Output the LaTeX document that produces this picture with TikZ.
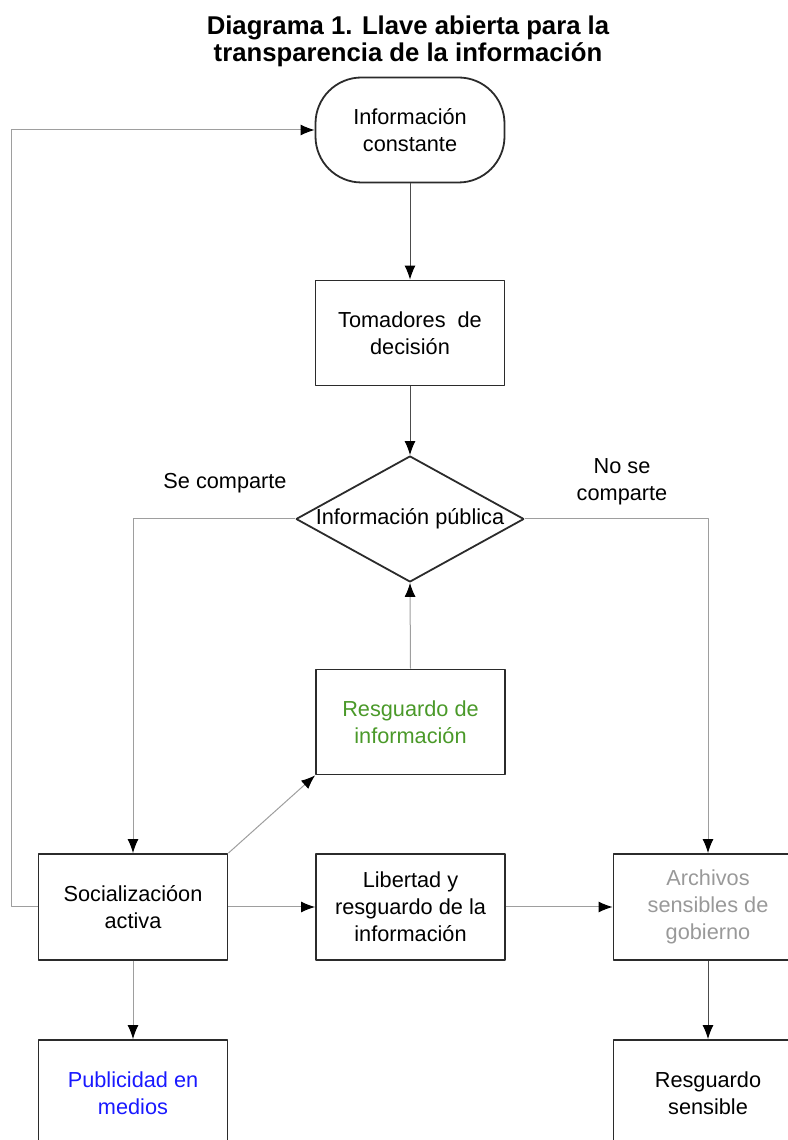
\documentclass[tikz,border=0pt]{standalone}
\usepackage{fontspec}
\setmainfont{Liberation Sans}
\usetikzlibrary{arrows.meta,shapes.geometric}
\definecolor{strokecol}{rgb}{0.17,0.17,0.17}
\definecolor{edgecol}{rgb}{0.62,0.62,0.62}
\definecolor{darkedge}{rgb}{0.3,0.3,0.3}
\definecolor{greencol}{rgb}{0.29,0.6,0.16}
\definecolor{bluecol}{rgb}{0.1,0.1,1.0}
\definecolor{graycol}{rgb}{0.6,0.6,0.6}
\tikzset{
  flowtext/.style={font=\fontsize{21.8}{27}\selectfont, align=center},
  flowbox/.style={flowtext, draw=strokecol, line width=1.8bp, inner sep=0pt,
    minimum width=189bp, minimum height=105bp},
  terminal/.style={flowbox, rounded corners=46bp},
  decision/.style={flowtext, diamond, draw=strokecol, line width=1.8bp, inner sep=0pt,
    minimum width=228bp, minimum height=126bp},
  edge/.style={->, draw=edgecol, line width=1bp},
  darkline/.style={->, draw=darkedge, line width=1bp},
}
\begin{document}
\begin{tikzpicture}[>={Latex[length=14bp,width=11bp,black]},line join=bevel,]
\useasboundingbox (0bp,0bp) rectangle (788bp,1140bp);
\clip (0bp,0bp) rectangle (788bp,1140bp);
  % Title
  \node[font=\bfseries\fontsize{25.8}{27}\selectfont, align=center] (title) at (408bp,1099bp)
    {Diagrama 1. Llave abierta para la\\transparencia de la información};
  % Node: infoconst
  \node[terminal] (infoconst) at (410bp,1010bp) {Información\\constante};
  % Node: tomadores
  \node[flowbox] (tomadores) at (410bp,807bp) {Tomadores\ \ de\\decisión};
  % Node: infopub
  \node[decision] (infopub) at (410bp,621bp) {\makebox[0pt]{Información pública}};
  % Node: resguardo
  \node[flowbox, text=greencol] (resguardo) at (410.5bp,418bp) {Resguardo de\\información};
  % Node: social
  \node[flowbox, minimum height=106bp] (social) at (133bp,233bp) {Socializacióon\\activa};
  % Node: libertad
  \node[flowbox, minimum height=106bp] (libertad) at (410.5bp,233bp) {Libertad y\\resguardo de la\\información};
  % Node: archivos
  \node[flowbox, minimum height=106bp, text=graycol] (archivos) at (708bp,233bp) {Archivos\\sensibles de\\gobierno};
  % Node: publicidad
  \node[flowbox, minimum height=106bp, text=bluecol] (publicidad) at (133bp,47bp) {Publicidad en\\medios};
  % Node: rsensible
  \node[flowbox, minimum height=106bp] (rsensible) at (708bp,47bp) {Resguardo\\sensible};
  % Labels
  \node[flowtext] (secomp) at (225bp,657bp) {Se comparte};
  \node[flowtext] (nosecomp) at (622bp,658bp) {No se\\comparte};
%
  % Edge: social -> infoconst
  \draw[edge] (social.west) -- ++(-26bp,0) |- (infoconst.west);
  % Edge: infoconst -> tomadores
  \draw[darkline] (infoconst.south) -- (tomadores.north);
  % Edge: tomadores -> infopub
  \draw[darkline] (tomadores.south) -- (infopub.north);
  % Edge: infopub -> social
  \draw[edge] (infopub.west) -| (social.north);
  % Edge: infopub -> archivos
  \draw[edge] (infopub.east) -| (archivos.north);
  % Edge: resguardo -> infopub
  \draw[edge] (resguardo.north) -- (infopub.south);
  % Edge: social -> resguardo
  \draw[edge] (social.north east) -- (resguardo.south west);
  % Edge: social -> libertad
  \draw[edge] (social.east) -- (libertad.west);
  % Edge: libertad -> archivos
  \draw[edge] (libertad.east) -- (archivos.west);
  % Edge: social -> publicidad
  \draw[edge] (social.south) -- (publicidad.north);
  % Edge: archivos -> rsensible
  \draw[darkline] (archivos.south) -- (rsensible.north);
%
\end{tikzpicture}
\end{document}
